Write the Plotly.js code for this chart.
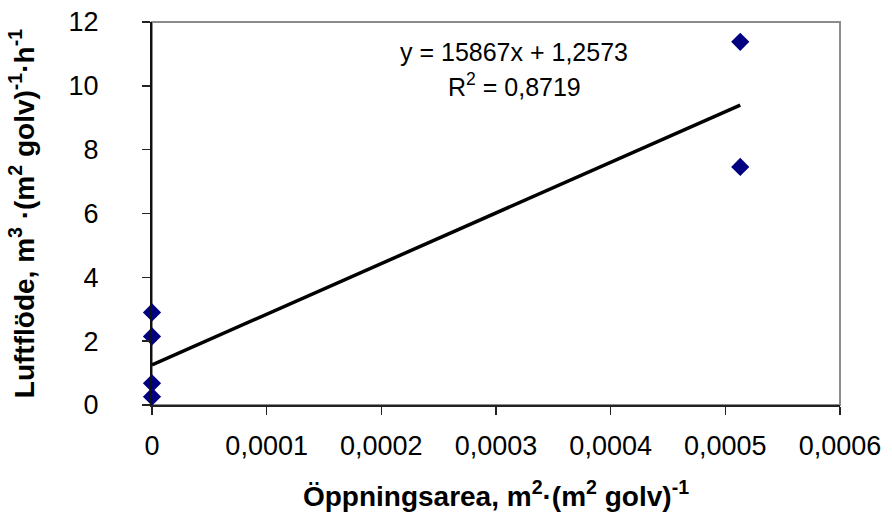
<!DOCTYPE html>
<html>
<head>
<meta charset="utf-8">
<script src="https://cdn.plot.ly/plotly-3.0.1.min.js"></script>
<style>
  html, body { margin: 0; padding: 0; background: #fff; }
  #chart { width: 892px; height: 522px; }
</style>
</head>
<body>
<div id="chart"></div>
<script>
// Measured points (opening area vs air flow)
var areaValues = [0, 0, 0, 0, 0.000513, 0.000513];
var flowValues = [2.9, 2.15, 0.68, 0.26, 11.38, 7.46];

// Excel trend line, drawn between its two ends
var trendX = [0, 0.000513];
var trendY = [1.2573, 9.398];
var trendLabel = 'y = 15867x + 1,2573';
var r2Label = 'R<sup>2</sup> = 0,8719';

var xTickVals = [0, 0.0001, 0.0002, 0.0003, 0.0004, 0.0005, 0.0006];
var xTickText = ['0', '0,0001', '0,0002', '0,0003', '0,0004', '0,0005', '0,0006'];

var fontName = 'Liberation Sans, Arial, sans-serif';

var points = {
    x: areaValues,
    y: flowValues,
    type: 'scatter',
    mode: 'markers',
    cliponaxis: false,
    marker: {
        symbol: 'diamond',
        size: 14,
        color: '#000080'
    },
    hoverinfo: 'x+y'
};

var trend = {
    x: trendX,
    y: trendY,
    type: 'scatter',
    mode: 'lines',
    line: { color: '#000000', width: 3.5 },
    hoverinfo: 'skip'
};

var layout = {
    width: 892,
    height: 522,
    margin: { l: 152, r: 52, t: 22, b: 117 },
    paper_bgcolor: '#ffffff',
    plot_bgcolor: '#ffffff',
    showlegend: false,
    separators: ', ',
    font: { family: fontName, size: 27, color: '#000000' },
    xaxis: {
        range: [0, 0.0006],
        tickvals: xTickVals,
        ticktext: xTickText,
        showgrid: false,
        zeroline: false,
        showline: true,
        linecolor: '#222222',
        linewidth: 2,
        ticks: 'outside',
        ticklen: 8,
        tickwidth: 1.5,
        tickcolor: '#222222',
        ticklabelstandoff: 8,
        tickfont: { family: fontName, size: 27 },
        title: {
            text: 'Öppningsarea, m<sup>2</sup>·(m<sup>2</sup> golv)<sup>-1</sup>',
            font: { family: fontName, size: 28, weight: 'bold' },
            standoff: 26
        }
    },
    yaxis: {
        range: [0, 12],
        dtick: 2,
        showgrid: false,
        zeroline: false,
        showline: true,
        linecolor: '#111111',
        linewidth: 2,
        ticks: 'outside',
        ticklen: 8,
        tickwidth: 1.5,
        tickcolor: '#222222',
        ticklabelstandoff: 38,
        tickfont: { family: fontName, size: 27 },
        title: {
            text: 'Luftflöde, m<sup>3</sup> ·(m<sup>2</sup> golv)<sup>-1</sup>·h<sup>-1</sup>',
            font: { family: fontName, size: 28, weight: 'bold' },
            standoff: 26
        }
    },
    shapes: [{
        type: 'rect',
        xref: 'paper', yref: 'paper',
        x0: 0, x1: 1, y0: 0, y1: 1,
        line: { color: '#8c8c8c', width: 2 },
        layer: 'below'
    }],
    annotations: [
        {
            x: 0.000316, y: 11.07, xref: 'x', yref: 'y',
            text: trendLabel, showarrow: false,
            font: { family: fontName, size: 25, color: '#000000' }
        },
        {
            x: 0.000316, y: 10.03, xref: 'x', yref: 'y',
            text: r2Label, showarrow: false,
            font: { family: fontName, size: 25, color: '#000000' }
        }
    ]
};

Plotly.newPlot('chart', [trend, points], layout, { displayModeBar: false, staticPlot: true });
</script>
</body>
</html>
